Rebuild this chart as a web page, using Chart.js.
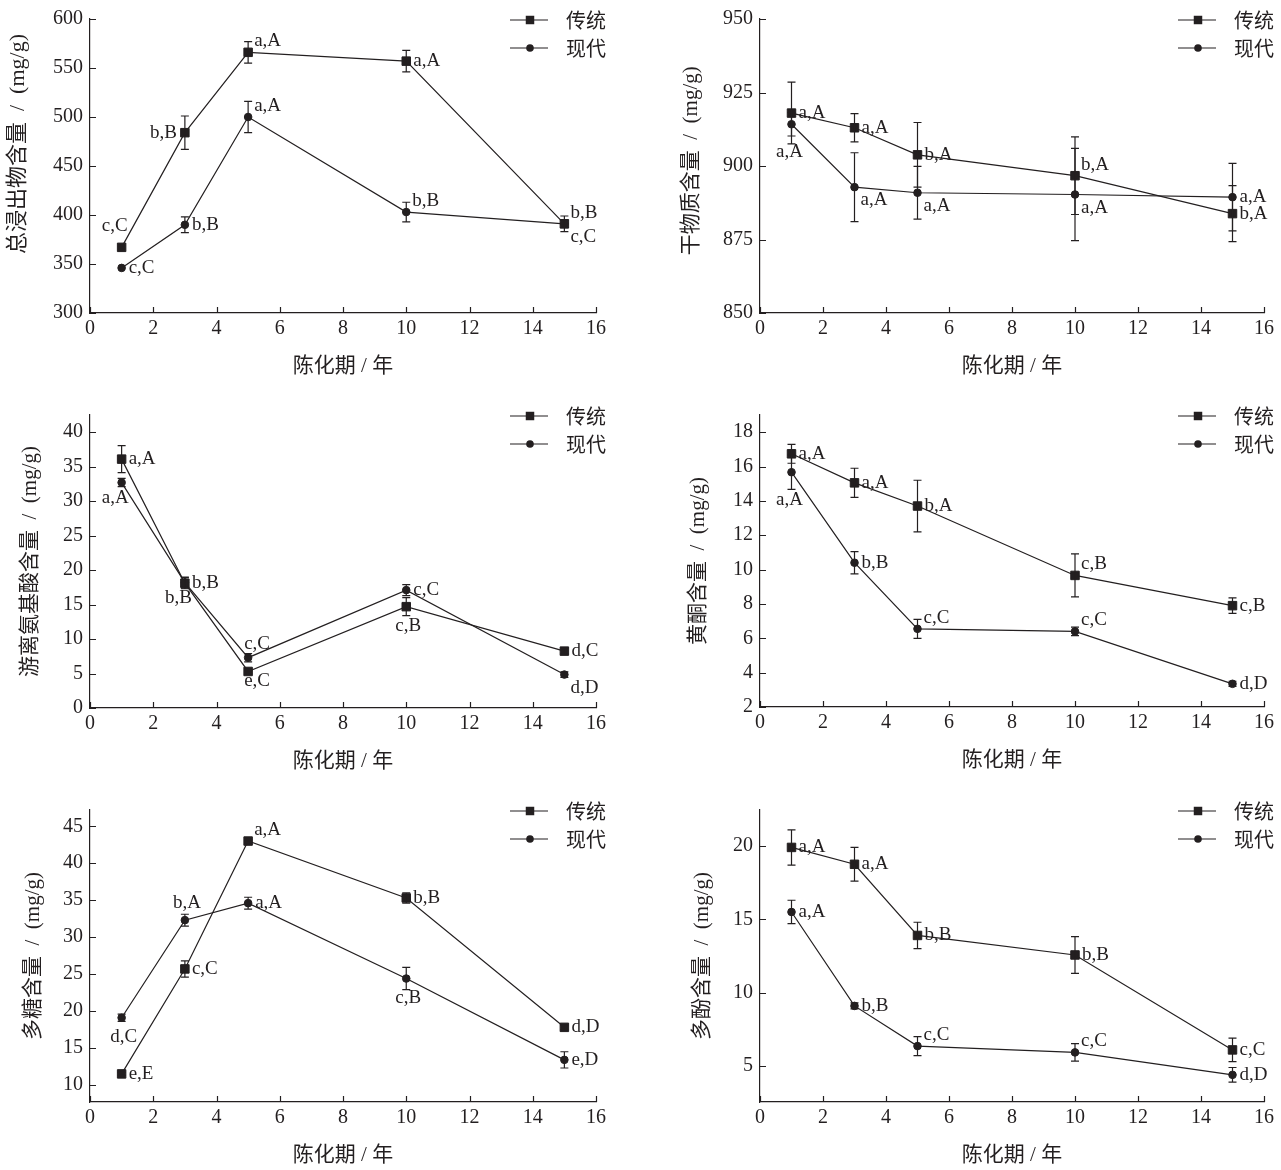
<!DOCTYPE html>
<html>
<head>
<meta charset="utf-8">
<script src="https://cdn.jsdelivr.net/npm/chart.js@4.4.1/dist/chart.umd.min.js"></script>
<style>
  body { margin: 0; background: #fff; }
  #wrap { position: relative; width: 1281px; height: 1170px; }
  #wrap canvas { position: absolute; }
</style>
</head>
<body>
<div id="wrap">
  <canvas id="c1" width="640" height="390" style="left:0px;top:0px"></canvas>
  <canvas id="c2" width="641" height="390" style="left:640px;top:0px"></canvas>
  <canvas id="c3" width="640" height="390" style="left:0px;top:395px"></canvas>
  <canvas id="c4" width="641" height="390" style="left:640px;top:395px"></canvas>
  <canvas id="c5" width="640" height="385" style="left:0px;top:785px"></canvas>
  <canvas id="c6" width="641" height="385" style="left:640px;top:785px"></canvas>
</div>
<script>
// ---- data ----
const years = [1, 3, 5, 10, 15];
const seriesNames = ['传统', '现代'];
const xTitle = '陈化期 / 年';

// 总浸出物
const extractTrad = [367, 484, 566, 557, 391];
const extractTradSd = [0, 17, 11, 11, 8];
const extractTradSig = ['c,C', 'b,B', 'a,A', 'a,A', 'b,B'];
const extractMod = [346, 390, 500, 403, 391];
const extractModSd = [0, 8, 16, 10, 4];
const extractModSig = ['c,C', 'b,B', 'a,A', 'b,B', 'c,C'];

// 干物质
const dryTrad = [918, 913, 903.8, 896.7, 883.8];
const dryTradSd = [10.5, 4.8, 11, 13.2, 9.5];
const dryTradSig = ['a,A', 'a,A', 'b,A', 'b,A', 'b,A'];
const dryMod = [914.2, 892.8, 890.9, 890.3, 889.4];
const dryModSd = [4, 11.7, 9, 15.7, 11.5];
const dryModSig = ['a,A', 'a,A', 'a,A', 'a,A', 'a,A'];

// 游离氨基酸
const aminoTrad = [36.1, 18.1, 5.3, 14.7, 8.25];
const aminoTradSd = [1.95, 0.8, 0.3, 1.3, 0.4];
const aminoTradSig = ['a,A', 'b,B', 'e,C', 'c,B', 'd,C'];
const aminoMod = [32.7, 18.2, 7.3, 17.1, 4.85];
const aminoModSd = [0.6, 0.8, 0.6, 0.8, 0.4];
const aminoModSig = ['a,A', 'b,B', 'c,C', 'c,C', 'd,D'];

// 黄酮
const flavTrad = [16.74, 15.05, 13.7, 9.66, 7.9];
const flavTradSd = [0.55, 0.85, 1.5, 1.25, 0.45];
const flavTradSig = ['a,A', 'a,A', 'b,A', 'c,B', 'c,B'];
const flavMod = [15.67, 10.4, 6.55, 6.4, 3.35];
const flavModSd = [1.0, 0.65, 0.55, 0.25, 0.15];
const flavModSig = ['a,A', 'b,B', 'c,C', 'c,C', 'd,D'];

// 多糖
const polyTrad = [11.5, 25.7, 43.0, 35.3, 17.8];
const polyTradSd = [0.2, 1.1, 0.2, 0.7, 0.3];
const polyTradSig = ['e,E', 'c,C', 'a,A', 'b,B', 'd,D'];
const polyMod = [19.1, 32.3, 34.6, 24.4, 13.4];
const polyModSd = [0.5, 0.8, 0.8, 1.5, 1.1];
const polyModSig = ['d,C', 'b,A', 'a,A', 'c,B', 'e,D'];

// 多酚
const phenTrad = [19.9, 18.75, 13.9, 12.57, 6.1];
const phenTradSd = [1.2, 1.15, 0.9, 1.25, 0.8];
const phenTradSig = ['a,A', 'a,A', 'b,B', 'b,B', 'c,C'];
const phenMod = [15.5, 9.1, 6.36, 5.93, 4.4];
const phenModSd = [0.8, 0.2, 0.65, 0.6, 0.5];
const phenModSig = ['a,A', 'b,B', 'c,C', 'c,C', 'd,D'];

// where each significance label sits relative to its point
const placeOffsets = {
  r:  [7, 0, 'left'],
  ra: [6, -11, 'left'],
  rb: [6, 13, 'left'],
  l:  [-8, 0, 'right'],
  la: [6, -21, 'right'],
  lb: [7, 15, 'right'],
  a:  [2, -17, 'center'],
  b:  [2, 19, 'center'],
  bb: [-2, 28, 'center'],
  ac: [-4, -14, 'left'],
  bc: [-4, 10, 'left']
};

const ink = '#231f20';
const serif = "'Liberation Serif', 'Times New Roman', 'Noto Sans CJK SC', serif";
const cjk = "'Noto Sans CJK SC', 'Liberation Serif', sans-serif";

const panels = [
  { id: 'c1', title: '总浸出物含量  /  (mg/g)', titleSize: 22, titleLead: 8, y: [300, 600, 50], area: [90, 19, 596, 313], h: 390, w: 640, yTitleX: 18,
    trad: [extractTrad, extractTradSd, extractTradSig, ['la', 'l', 'ra', 'r', 'ra']],
    mod: [extractMod, extractModSd, extractModSig, ['r', 'r', 'ra', 'ra', 'rb']] },
  { id: 'c2', title: '干物质含量  /  (mg/g)', titleSize: 21, titleLead: 2, y: [850, 950, 25], area: [120, 19, 624, 313], h: 390, w: 641, yTitleX: 51,
    trad: [dryTrad, dryTradSd, dryTradSig, ['r', 'r', 'r', 'ra', 'r']],
    mod: [dryMod, dryModSd, dryModSig, ['bb', 'rb', 'rb', 'rb', 'r']] },
  { id: 'c3', title: '游离氨基酸含量  /  (mg/g)', titleSize: 21, titleLead: 0, y: [0, 42.5, 5], area: [90, 20, 596, 313], h: 390, w: 640, yTitleX: 30,
    trad: [aminoTrad, aminoTradSd, aminoTradSig, ['r', 'r', 'bc', 'b', 'r']],
    mod: [aminoMod, aminoModSd, aminoModSig, ['lb', 'lb', 'ac', 'r', 'rb']] },
  { id: 'c4', title: '黄酮含量  /  (mg/g)', titleSize: 21, titleLead: 0, y: [2, 19, 2], area: [120, 20, 624, 312], h: 390, w: 641, yTitleX: 58,
    trad: [flavTrad, flavTradSd, flavTradSig, ['r', 'r', 'r', 'ra', 'r']],
    mod: [flavMod, flavModSd, flavModSig, ['bb', 'r', 'ra', 'ra', 'r']] },
  { id: 'c5', title: '多糖含量  /  (mg/g)', titleSize: 21, titleLead: 0, y: [7.7, 47.2, 5], area: [90, 25, 596, 317], h: 385, w: 640, yTitleX: 33,
    trad: [polyTrad, polyTradSd, polyTradSig, ['r', 'r', 'ra', 'r', 'r']],
    mod: [polyMod, polyModSd, polyModSig, ['b', 'a', 'r', 'b', 'r']] },
  { id: 'c6', title: '多酚含量  /  (mg/g)', titleSize: 21, titleLead: 0, y: [2.55, 22.45, 5], area: [120, 25, 624, 317], h: 385, w: 641, yTitleX: 62,
    trad: [phenTrad, phenTradSd, phenTradSig, ['r', 'r', 'r', 'r', 'r']],
    mod: [phenMod, phenModSd, phenModSig, ['r', 'r', 'ra', 'ra', 'r']] }
];

// ticks pointing into the plot
const inwardTicks = {
  id: 'inwardTicks',
  afterDraw(chart) {
    const {ctx, chartArea, scales: {x, y}} = chart;
    ctx.save();
    ctx.strokeStyle = ink;
    ctx.lineWidth = 1.2;
    ctx.beginPath();
    x.ticks.forEach(t => {
      const px = Math.round(x.getPixelForValue(t.value)) + 0.5;
      ctx.moveTo(px, chartArea.bottom);
      ctx.lineTo(px, chartArea.bottom - 6);
    });
    y.ticks.forEach(t => {
      const py = Math.round(y.getPixelForValue(t.value)) + 0.5;
      ctx.moveTo(chartArea.left, py);
      ctx.lineTo(chartArea.left + 6, py);
    });
    ctx.stroke();
    ctx.restore();
  }
};

const errorBars = {
  id: 'errorBars',
  afterDatasetsDraw(chart) {
    const {ctx, scales: {x, y}} = chart;
    ctx.save();
    ctx.strokeStyle = ink;
    ctx.lineWidth = 1.2;
    chart.data.datasets.forEach(ds => {
      ds.data.forEach((pt, i) => {
        const sd = ds.sd[i];
        if (!sd) return;
        const px = x.getPixelForValue(pt.x);
        const top = y.getPixelForValue(pt.y + sd);
        const bot = y.getPixelForValue(pt.y - sd);
        ctx.beginPath();
        ctx.moveTo(px, top); ctx.lineTo(px, bot);
        ctx.moveTo(px - 4, top); ctx.lineTo(px + 4, top);
        ctx.moveTo(px - 4, bot); ctx.lineTo(px + 4, bot);
        ctx.stroke();
      });
    });
    ctx.restore();
  }
};

const sigLabels = {
  id: 'sigLabels',
  afterDatasetsDraw(chart) {
    const {ctx, scales: {x, y}} = chart;
    ctx.save();
    ctx.fillStyle = ink;
    ctx.font = "19px " + serif;
    ctx.textBaseline = 'middle';
    chart.data.datasets.forEach(ds => {
      ds.data.forEach((pt, i) => {
        const off = placeOffsets[ds.place[i]];
        ctx.textAlign = off[2];
        ctx.fillText(ds.sig[i], x.getPixelForValue(pt.x) + off[0], y.getPixelForValue(pt.y) + off[1]);
      });
    });
    ctx.restore();
  }
};

// legend: short line with the marker in the middle, name on the right
const lineLegend = {
  id: 'lineLegend',
  afterDraw(chart) {
    const {ctx, chartArea} = chart;
    ctx.save();
    chart.data.datasets.forEach((ds, i) => {
      const ly = chartArea.top + 1 + i * 28;
      const x0 = chartArea.right - 86, x1 = chartArea.right - 48;
      ctx.strokeStyle = ink;
      ctx.lineWidth = 1.2;
      ctx.beginPath();
      ctx.moveTo(x0, ly); ctx.lineTo(x1, ly);
      ctx.stroke();
      ctx.fillStyle = ink;
      Chart.helpers.drawPoint(ctx, {pointStyle: ds.pointStyle, rotation: 0, radius: ds.pointRadius, borderWidth: 0}, chartArea.right - 66, ly);
      ctx.font = "20px " + cjk;
      ctx.textAlign = 'left';
      ctx.textBaseline = 'middle';
      ctx.fillText(ds.label, chartArea.right - 30, ly);
    });
    ctx.restore();
  }
};

function series(name, vals, style, radius) {
  return {
    label: name,
    data: years.map((yr, i) => ({x: yr, y: vals[0][i]})),
    sd: vals[1],
    sig: vals[2],
    place: vals[3],
    borderColor: ink,
    borderWidth: 1.2,
    pointStyle: style,
    pointRadius: radius,
    pointBackgroundColor: ink,
    pointBorderColor: ink,
    pointBorderWidth: 1,
    tension: 0,
    fill: false
  };
}

function makeChart(p) {
  const xHeight = p.h - p.area[3];
  const yLine = p.titleSize * 1.2;
  new Chart(document.getElementById(p.id), {
    type: 'line',
    data: {
      datasets: [
        series(seriesNames[0], p.trad, 'rect', 6),
        series(seriesNames[1], p.mod, 'circle', 3.8)
      ]
    },
    options: {
      responsive: false,
      animation: false,
      devicePixelRatio: 1,
      events: [],
      layout: { padding: { left: 0, top: p.area[1], right: p.w - p.area[2], bottom: 0 } },
      plugins: { legend: { display: false }, tooltip: { enabled: false } },
      scales: {
        x: {
          type: 'linear', min: 0, max: 16,
          ticks: { stepSize: 2, padding: 4, color: ink, font: { family: serif, size: 20 } },
          grid: { display: false, drawTicks: false },
          border: { color: ink, width: 1.2 },
          title: { display: true, text: xTitle, color: ink, font: { family: serif, size: 21 },
                   padding: { top: 0, bottom: Math.max(0, xHeight - 53 - 12.6) } },
          afterFit: s => { s.height = xHeight; }
        },
        y: {
          type: 'linear', min: p.y[0], max: p.y[1],
          ticks: { stepSize: p.y[2], includeBounds: false, padding: 7, color: ink, font: { family: serif, size: 20 } },
          grid: { display: false, drawTicks: false },
          border: { color: ink, width: 1.2 },
          title: { display: true, text: ' '.repeat(p.titleLead) + p.title, color: ink, font: { family: serif, size: p.titleSize },
                   padding: { top: p.yTitleX - yLine / 2, bottom: 0 } },
          afterFit: s => { s.width = p.area[0]; }
        }
      }
    },
    plugins: [inwardTicks, errorBars, sigLabels, lineLegend]
  });
}

panels.forEach(makeChart);
</script>
</body>
</html>
